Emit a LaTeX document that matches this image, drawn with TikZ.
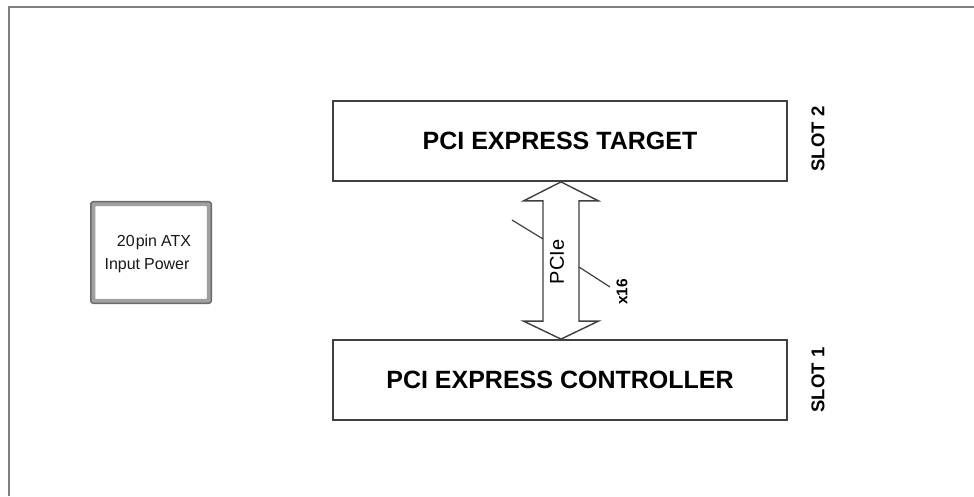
\documentclass[tikz,border=0pt]{standalone}
\usepackage{fontspec}
\setmainfont{Liberation Sans}
\usetikzlibrary{calc}
\definecolor{edge}{HTML}{404040}
\definecolor{frame}{HTML}{808080}
\definecolor{pwr}{HTML}{A0A0A0}
\definecolor{pwrcore}{HTML}{6A6A6A}
\begin{document}
\begin{tikzpicture}[x=1pt,y=1pt,
  blk/.style={draw=edge,line width=1.8pt,fill=white,minimum width=454pt,minimum height=80pt,inner sep=0pt,font=\fontsize{25}{28}\selectfont\bfseries},
  slot/.style={rotate=90,font=\fontsize{18.5}{20}\selectfont\bfseries},
  pwrbox/.style={draw=pwr,line width=4.5pt,rounded corners=2.5pt,minimum width=116pt,minimum height=97pt,inner sep=0pt},
  pwrtext/.style={font=\fontsize{16}{18}\selectfont,inner sep=0pt,text=black!90},
  wire/.style={draw=edge,line width=1.4pt}]
\useasboundingbox (0,0) rectangle (974,496);
\fill[white] (0,0) rectangle (974,496);
\draw[frame,line width=1.6pt] (9,0) -- (9,489) -- (974,489);
% boxes
\node[blk] (top) at (560,355) {PCI EXPRESS TARGET};
\node[blk] (bot) at (560,116) {PCI EXPRESS CONTROLLER};
\node[slot] (s2) at (818,357) {SLOT 2};
\node[slot] (s1) at (818,116) {SLOT 1};
\node[pwrbox] (pw) at (151,243.5) {};
\draw[pwrcore,line width=1.5pt,rounded corners=2.5pt] (pw.south west) rectangle (pw.north east);
\node[pwrtext,anchor=base] (pt1) at (154,250) {20\kern1pt pin\kern-0.5pt\ ATX};
\node[pwrtext,anchor=base] (pt2) at (147,227) {Input\kern-0.5pt\ Power};
% bus arrow
\coordinate (hb1) at ($(top.south)+(1,-19)$);
\coordinate (hb2) at ($(bot.north)+(1,18)$);
\coordinate (tt) at ($(top.south)+(1,0)$);
\coordinate (bt) at ($(bot.north)+(1,0)$);
\draw[wire,fill=white,line join=miter] (tt) -- ($(hb1)+(37.5,0)$) -- ($(hb1)+(18,0)$) -- ($(hb2)+(18,0)$) -- ($(hb2)+(37.5,0)$) -- (bt) -- ($(hb2)+(-37.5,0)$) -- ($(hb2)+(-18,0)$) -- ($(hb1)+(-18,0)$) -- ($(hb1)+(-37.5,0)$) -- cycle;
\node[rotate=90,font=\fontsize{20}{22}\selectfont] (pcie) at (557,234) {PCIe};
\node[rotate=90,font=\fontsize{15.5}{17}\selectfont\bfseries] (x16) at (622,204) {x16};
\coordinate (sa1) at (512,276);
\coordinate (sa2) at (543,257);
\coordinate (sb1) at (579,229);
\coordinate (sb2) at (610,209);
\draw[wire,line width=1.2pt] (sa1) -- (sa2);
\draw[wire,line width=1.2pt] (sb1) -- (sb2);
\end{tikzpicture}
\end{document}
